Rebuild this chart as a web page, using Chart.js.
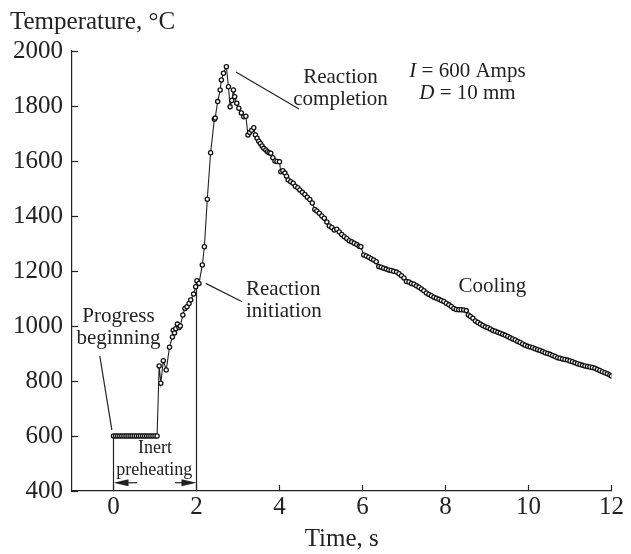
<!DOCTYPE html>
<html>
<head>
<meta charset="utf-8">
<script src="https://cdn.jsdelivr.net/npm/chart.js@4.4.1/dist/chart.umd.min.js"></script>
<style>
  html, body { margin: 0; padding: 0; background: #fff; }
  #wrap { width: 631px; height: 554px; }
</style>
</head>
<body>
<div id="wrap"><canvas id="myChart"></canvas></div>
<script>
const xTicks = [0, 2, 4, 6, 8, 10, 12];
const yTicks = [400, 600, 800, 1000, 1200, 1400, 1600, 1800, 2000];

// inert preheating, flat at ~600 C
const preheatTime = [0, 0.05, 0.1, 0.15, 0.2, 0.25, 0.3, 0.35, 0.4, 0.45, 0.5,
  0.55, 0.6, 0.65, 0.7, 0.75, 0.8, 0.85, 0.9, 0.95, 1.0, 1.05];
const preheatTemp = [600, 600, 600, 600, 600, 600, 600, 600, 600, 600, 600,
  600, 600, 600, 600, 600, 600, 600, 600, 600, 600, 600];

// heating up to the peak
const heatTime = [1.10, 1.14, 1.20, 1.27, 1.35, 1.42, 1.44, 1.47, 1.50, 1.54,
  1.58, 1.61, 1.67, 1.72, 1.77, 1.82, 1.86, 1.93, 1.98, 2.01,
  2.06, 2.14, 2.19, 2.26, 2.34, 2.43, 2.45, 2.51, 2.57, 2.60,
  2.65, 2.72];
const heatTemp = [855, 792, 874, 840, 923, 960, 985, 975, 990, 1007,
  995, 1000, 1040, 1064, 1070, 1082, 1095, 1116, 1143, 1165,
  1155, 1222, 1288, 1461, 1630, 1752, 1756, 1816, 1858, 1895,
  1919, 1943];

// cooling after reaction completion
const coolTime = [2.77, 2.81, 2.85, 2.89, 2.92, 2.97, 3.02, 3.08, 3.14, 3.19,
  3.24, 3.28, 3.33, 3.38, 3.42, 3.46, 3.50, 3.54, 3.58, 3.62,
  3.67, 3.71, 3.75, 3.79, 3.84, 3.89, 3.94, 4.00, 4.03, 4.08,
  4.13, 4.17, 4.21, 4.27, 4.33, 4.38, 4.44, 4.49, 4.55, 4.61,
  4.67, 4.73, 4.79, 4.85, 4.90, 4.96, 5.02, 5.08, 5.14, 5.20,
  5.26, 5.32, 5.38, 5.44, 5.50, 5.56, 5.62, 5.68, 5.74, 5.80,
  5.86, 5.92, 5.96, 6.03, 6.09, 6.15, 6.21, 6.27, 6.33, 6.39,
  6.45, 6.51, 6.57, 6.63, 6.69, 6.75, 6.82, 6.88, 6.94, 7.00,
  7.06, 7.12, 7.18, 7.24, 7.30, 7.36, 7.42, 7.48, 7.54, 7.60,
  7.66, 7.72, 7.78, 7.84, 7.90, 7.96, 8.02, 8.08, 8.14, 8.20,
  8.26, 8.32, 8.38, 8.44, 8.50, 8.55, 8.60, 8.66, 8.72, 8.78,
  8.84, 8.90, 8.96, 9.02, 9.08, 9.14, 9.20, 9.26, 9.32, 9.38,
  9.44, 9.50, 9.56, 9.62, 9.68, 9.74, 9.80, 9.86, 9.92, 9.98,
  10.04, 10.10, 10.16, 10.22, 10.28, 10.34, 10.40, 10.46, 10.52, 10.58,
  10.64, 10.70, 10.76, 10.82, 10.88, 10.94, 11.00, 11.06, 11.12, 11.18,
  11.24, 11.30, 11.36, 11.42, 11.48, 11.54, 11.60, 11.66, 11.72, 11.78,
  11.84, 11.90, 11.96, 12.00];
const coolTemp = [1870, 1797, 1820, 1858, 1834, 1810, 1792, 1775, 1761, 1763,
  1695, 1704, 1712, 1721, 1695, 1683, 1672, 1664, 1655, 1646,
  1640, 1634, 1630, 1628, 1612, 1600, 1598, 1597, 1561, 1565,
  1556, 1545, 1531, 1525, 1519, 1508, 1503, 1495, 1486, 1478,
  1468, 1460, 1447, 1424, 1418, 1410, 1400, 1392, 1378, 1364,
  1358, 1349, 1352, 1342, 1333, 1325, 1318, 1310, 1306, 1301,
  1296, 1290, 1288, 1258, 1255, 1250, 1245, 1240, 1234, 1216,
  1214, 1210, 1207, 1204, 1202, 1199, 1196, 1190, 1183, 1175,
  1162, 1160, 1155, 1152, 1146, 1141, 1135, 1128, 1120, 1115,
  1110, 1105, 1101, 1097, 1093, 1089, 1083, 1077, 1071, 1064,
  1060, 1059, 1059, 1058, 1056, 1040, 1035, 1028, 1018, 1013,
  1007, 1002, 997, 994, 989, 984, 981, 977, 974, 970,
  966, 962, 957, 953, 949, 944, 940, 935, 930, 926,
  924, 921, 917, 914, 911, 907, 903, 900, 897, 893,
  889, 885, 883, 880, 878, 876, 873, 870, 866, 863,
  860, 857, 855, 853, 851, 849, 846, 842, 838, 834,
  830, 826, 822, 818];

// preheating boundaries (start at 0 s, ignition at 2 s)
const boundStart = [[0, 400], [0, 600]];
const boundEnd = [[2, 400], [2, 1160]];

const allTime = preheatTime.concat(heatTime, coolTime);
const allTemp = preheatTemp.concat(heatTemp, coolTemp);

const ink = '#222';
const serif = '"Liberation Serif", "Times New Roman", serif';

// leader lines [t1, T1, t2, T2]
const leaders = [
  [-0.33, 891, -0.04, 622],
  [2.22, 1155, 3.10, 1088],
  [2.95, 1924, 4.47, 1789]
];
// arrows [fromT, toT, level]
const arrows = [[0.57, 0, 430], [1.48, 2, 430]];
const notes = [
  { text: 'Progress', t: 0.12, v: 1036, size: 21, align: 'center' },
  { text: 'beginning', t: 0.12, v: 956, size: 21, align: 'center' },
  { text: 'Inert', t: 1.0, v: 556, size: 18, align: 'center' },
  { text: 'preheating', t: 0.98, v: 476, size: 18, align: 'center' },
  { text: 'Reaction', t: 3.19, v: 1131, size: 21, align: 'left' },
  { text: 'initiation', t: 3.19, v: 1053, size: 21, align: 'left' },
  { text: 'Reaction', t: 5.47, v: 1905, size: 21, align: 'center' },
  { text: 'completion', t: 5.47, v: 1825, size: 21, align: 'center' },
  { text: 'Cooling', t: 9.13, v: 1145, size: 21, align: 'center' }
];
const params = [
  { parts: [['I', true], [' = 600 Amps', false]], t: 8.53, v: 1924 },
  { parts: [['D', true], [' = 10 mm', false]], t: 8.53, v: 1847 }
];

const annotate = {
  id: 'annotate',
  afterDatasetsDraw(chart) {
    const { ctx, scales: { x, y } } = chart;
    const px = t => x.getPixelForValue(t);
    const py = v => y.getPixelForValue(v);
    ctx.save();
    ctx.strokeStyle = ink;
    ctx.fillStyle = ink;
    ctx.lineWidth = 1.2;
    leaders.forEach(l => {
      ctx.beginPath();
      ctx.moveTo(px(l[0]), py(l[1]));
      ctx.lineTo(px(l[2]), py(l[3]));
      ctx.stroke();
    });
    arrows.forEach(a => {
      const x1 = px(a[0]), x2 = px(a[1]), yy = py(a[2]);
      const dir = x2 > x1 ? 1 : -1;
      ctx.beginPath();
      ctx.moveTo(x1, yy);
      ctx.lineTo(x2 - dir * 8, yy);
      ctx.stroke();
      ctx.beginPath();
      ctx.moveTo(x2, yy);
      ctx.lineTo(x2 - dir * 15, yy - 3.5);
      ctx.lineTo(x2 - dir * 15, yy + 3.5);
      ctx.closePath();
      ctx.fill();
    });
    ctx.textBaseline = 'middle';
    notes.forEach(n => {
      ctx.font = n.size + 'px ' + serif;
      ctx.textAlign = n.align;
      ctx.fillText(n.text, px(n.t), py(n.v));
    });
    ctx.textAlign = 'left';
    params.forEach(p => {
      const fonts = p.parts.map(s => (s[1] ? 'italic ' : '') + '21px ' + serif);
      let w = 0;
      p.parts.forEach((s, i) => { ctx.font = fonts[i]; w += ctx.measureText(s[0]).width; });
      let cx = px(p.t) - w / 2;
      p.parts.forEach((s, i) => {
        ctx.font = fonts[i];
        ctx.fillText(s[0], cx, py(p.v));
        cx += ctx.measureText(s[0]).width;
      });
    });
    // y axis title, horizontal above the axis
    ctx.font = '25px ' + serif;
    ctx.fillText('Temperature, \u00B0C', 10, chart.chartArea.top - 29);
    ctx.restore();
  }
};

const lineDs = (pts) => ({
  data: pts.map(p => ({ x: p[0], y: p[1] })),
  showLine: true,
  borderColor: ink,
  borderWidth: 1.2,
  pointRadius: 0
});

const ctx = document.getElementById('myChart').getContext('2d');
new Chart(ctx, {
  type: 'scatter',
  data: {
    datasets: [
      {
        data: allTime.map((t, i) => ({ x: t, y: allTemp[i] })),
        showLine: true,
        borderColor: ink,
        borderWidth: 1.1,
        pointRadius: 2.1,
        pointBorderWidth: 1.3,
        pointBorderColor: '#111',
        pointBackgroundColor: '#fff'
      },
      lineDs(boundStart),
      lineDs(boundEnd)
    ]
  },
  options: {
    responsive: true,
    maintainAspectRatio: false,
    animation: false,
    layout: { padding: { top: 51, right: 13, left: 0, bottom: 0 } },
    plugins: { legend: { display: false }, tooltip: { enabled: false } },
    scales: {
      x: {
        type: 'linear',
        min: -1,
        max: 12,
        afterBuildTicks: s => { s.ticks = xTicks.map(v => ({ value: v })); },
        afterFit: s => { s.height = 63; },
        grid: { drawOnChartArea: false, tickLength: -6, tickColor: ink, tickWidth: 1.2 },
        border: { color: ink, width: 1.2 },
        ticks: { color: ink, padding: 7, maxRotation: 0, callback: v => String(v), font: { family: serif, size: 25 } },
        title: {
          display: true, text: 'Time, s', color: ink,
          font: { family: serif, size: 25, lineHeight: 1 },
          padding: { top: 0, bottom: 2 }
        }
      },
      y: {
        min: 400,
        max: 2000,
        afterBuildTicks: s => { s.ticks = yTicks.map(v => ({ value: v })); },
        afterFit: s => { s.width = 72; },
        grid: { drawOnChartArea: false, tickLength: -6, tickColor: ink, tickWidth: 1.2 },
        border: { color: ink, width: 1.2 },
        ticks: { color: ink, padding: 15, callback: v => String(v), font: { family: serif, size: 25 } }
      }
    }
  },
  plugins: [annotate]
});
</script>
</body>
</html>
